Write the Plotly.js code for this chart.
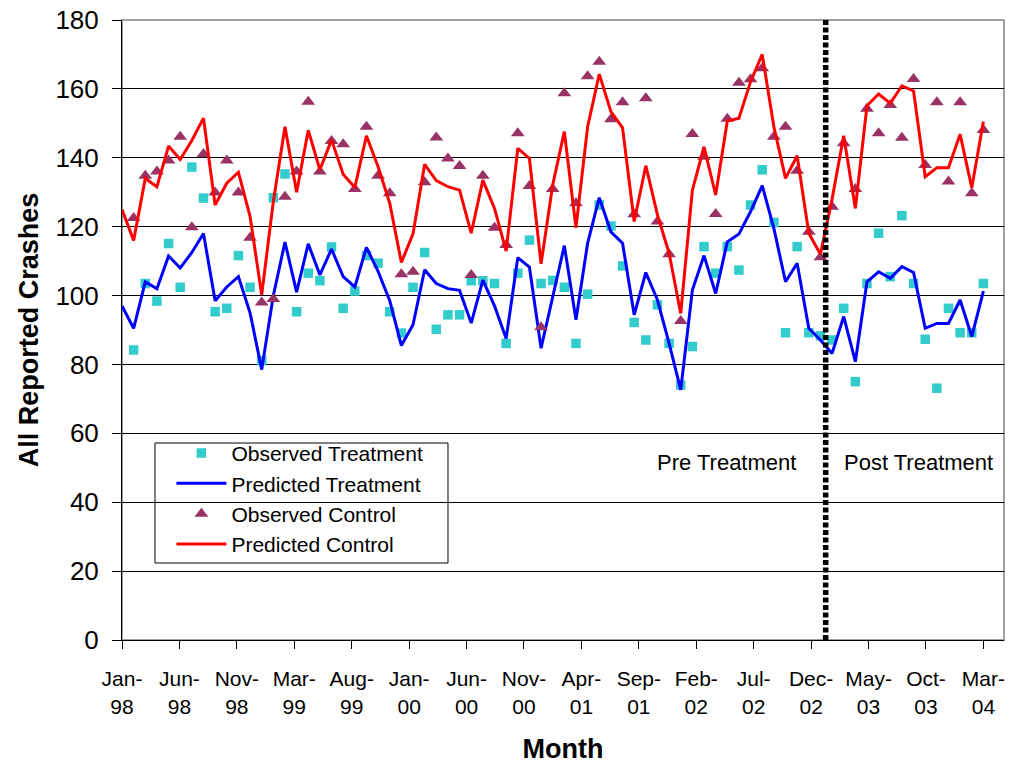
<!DOCTYPE html>
<html>
<head>
<meta charset="utf-8">
<script src="https://cdn.plot.ly/plotly-3.0.1.min.js"></script>
<style>html,body{margin:0;padding:0;background:#fff;}#chart{width:1010px;height:765px;}</style>
</head>
<body>
<div id="chart"></div>
<script>
// Month index 0 = Jan-98 ... 74 = Mar-04
var monthIndex = [];
for (var m = 0; m < 75; m++) monthIndex.push(m);

var tickLabels = ["Jan-<br>98","Jun-<br>98","Nov-<br>98","Mar-<br>99","Aug-<br>99","Jan-<br>00","Jun-<br>00","Nov-<br>00","Apr-<br>01","Sep-<br>01","Feb-<br>02","Jul-<br>02","Dec-<br>02","May-<br>03","Oct-<br>03","Mar-<br>04"];

var observedTreatment = [null,84.2,103.5,98.4,115.1,102.4,137.3,128.3,95.3,96.3,111.6,102.4,81.1,128.4,135.3,95.3,106.5,104.3,114.1,96.3,101.3,111.6,109.4,95.3,89.1,102.4,112.5,90.2,94.4,94.4,104.3,104.3,103.5,86.1,106.5,116.1,103.5,104.4,102.4,86.1,100.4,126.3,120.2,108.6,92.2,87.1,97.3,86.1,74,85.2,114.2,106.5,114.2,107.4,126.3,136.5,121.2,89.2,114.2,89.2,88.3,87.1,96.3,75,103.5,118.1,105.5,123.2,103.5,87.3,73.1,96.3,89.2,89.2,103.5];

var predictedTreatment = [97,90.5,104,102,111.5,108,112.5,118,98.5,102.5,105.5,95,78.5,100,115.5,101,115,106,113.5,105.5,102.5,114,107,98.5,85.5,91.5,107.5,103.5,102,101.5,92,104.5,97,87.5,111,108.3,84.7,100,114.5,93,115.2,128.4,118.5,115.2,94.4,106.7,98.7,86.1,72.6,101.6,111.6,100.6,115.6,117.9,124.4,131.9,119.5,104,109.4,90.5,87.1,83.2,93.9,80.8,104,106.9,105,108.4,106.7,90.5,91.9,91.9,98.7,88.1,101.3];

var observedControl = [null,122.5,134.8,136,139.2,146.1,119.8,141.1,129.9,139.2,129.9,116.8,98,99,128.7,136,156.3,136,144.9,143.9,130.9,149,134.8,129.7,106.2,106.9,132.9,145.9,139.8,137.6,106,134.8,119.7,114.7,147.1,131.8,90.8,130.9,158.7,126.8,163.7,167.9,151.2,156.1,123.6,157.3,121.5,112,92.6,146.9,140.3,123.7,151.3,161.8,162.8,166,146.1,149,136.2,118.5,111.1,125.8,144.2,130.9,154.2,147.1,155.3,145.8,162.9,137.9,156.1,133.1,156.1,129.7,148.1];

var predictedControl = [125,116,134,131.6,143.4,139.5,145,151.5,126.3,132.6,135.8,123,100.2,127.3,149,130,148,136.5,145.2,135.2,131.4,146.4,137.4,126.8,109.6,117.9,138.1,133.4,131.6,130.6,118.1,133.5,125.3,112.9,142.7,139.8,109.2,132.1,147.6,119.7,149,164.3,153.4,148.7,121.5,137.7,123.4,112.3,94.8,130.6,143.2,129.2,150.7,151.5,162.1,170,149,134,140.6,118.1,112,128,146.4,125.3,155.1,158.5,155.8,160.9,159.4,134.5,137.1,137.1,146.8,131.3,150.5];

var treatmentStart = 60.45; // between Dec-02 and Jan-03

var tickVals = tickLabels.map(function(_, k){ return k * 74 / 15; });

var FONT = "Liberation Sans, Arial, Helvetica, sans-serif";

var traces = [
  {x: monthIndex, y: observedTreatment, name: "Observed Treatment", type: "scatter", mode: "markers",
   marker: {symbol: "square", size: 9.5, color: "#33CCCC"}},
  {x: monthIndex, y: predictedTreatment, name: "Predicted Treatment", type: "scatter", mode: "lines",
   line: {color: "#0000FF", width: 3}},
  {x: monthIndex, y: observedControl, name: "Observed Control", type: "scatter", mode: "markers",
   marker: {symbol: "triangle-up", size: 12, color: "#993366"}},
  {x: monthIndex, y: predictedControl, name: "Predicted Control", type: "scatter", mode: "lines",
   line: {color: "#FF0000", width: 3}}
];

var layout = {
  width: 1010, height: 765,
  margin: {l: 122, r: 6, t: 20, b: 125},
  paper_bgcolor: "#ffffff", plot_bgcolor: "#ffffff",
  font: {family: FONT, color: "#000000"},
  showlegend: true,
  legend: {x: 0.056, y: 0.334, xanchor: "left", yanchor: "top",
    bgcolor: "rgba(0,0,0,0)", borderwidth: 0,
    font: {family: FONT, size: 21, color: "#000"}, tracegroupgap: 0, itemwidth: 50},
  xaxis: {
    range: [0, 75.77], showgrid: false, zeroline: false,
    showline: true, linecolor: "#000", linewidth: 1,
    tickmode: "array", tickvals: tickVals, ticktext: tickLabels,
    ticks: "outside", ticklen: 8, tickcolor: "#000", ticklabelstandoff: 12,
    tickfont: {family: FONT, size: 21, color: "#000"},
    title: {text: "<b>Month</b>", font: {family: FONT, size: 27, color: "#000"}, standoff: 22}
  },
  yaxis: {
    range: [0, 180], dtick: 20, tick0: 0,
    showgrid: true, gridcolor: "#000", gridwidth: 1, zeroline: false,
    showline: true, linecolor: "#000", linewidth: 1,
    ticks: "outside", ticklen: 9, tickcolor: "#000", ticklabelstandoff: 8,
    tickfont: {family: FONT, size: 26, color: "#000"},
    title: {text: "<b>All Reported Crashes</b>", font: {family: FONT, size: 27, color: "#000"}, standoff: 8}
  },
  shapes: [
    {type: "rect", xref: "paper", yref: "paper", x0: 0, x1: 1, y0: 0, y1: 1,
     line: {color: "#a0a0a0", width: 2}, layer: "below"},
    {type: "rect", xref: "paper", yref: "paper", x0: 0.0374, x1: 0.3696, y0: 0.1242, y1: 0.3177,
     line: {color: "#000", width: 1}, fillcolor: "#ffffff", layer: "between"},
    {type: "line", xref: "x", yref: "y", x0: treatmentStart, x1: treatmentStart, y0: 0, y1: 180,
     line: {color: "#000", width: 5.5, dash: "5px,2.5px"}}
  ],
  annotations: [
    {text: "Pre Treatment", xref: "x", yref: "y", x: 51.9, y: 51.4, showarrow: false,
     font: {family: FONT, size: 22, color: "#000"}},
    {text: "Post Treatment", xref: "x", yref: "y", x: 68.4, y: 51.4, showarrow: false,
     font: {family: FONT, size: 22, color: "#000"}}
  ]
};

Plotly.newPlot("chart", traces, layout, {displayModeBar: false, staticPlot: true});
</script>
</body>
</html>
